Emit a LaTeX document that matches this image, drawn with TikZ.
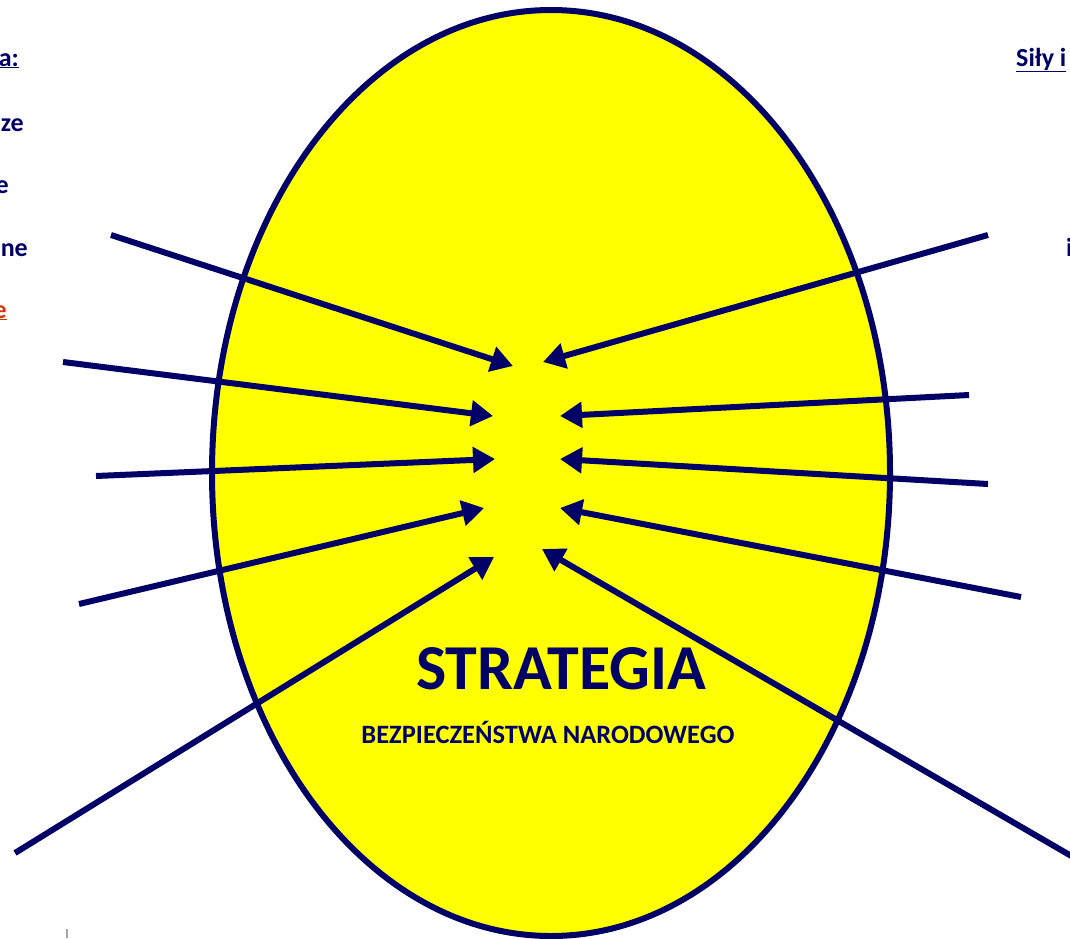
\documentclass[tikz,border=0pt]{standalone}
\usepackage{fontspec}
\setmainfont{Carlito}
\usetikzlibrary{arrows.meta}
\definecolor{navy}{RGB}{0,0,102}
\definecolor{eggyellow}{RGB}{255,255,0}
\definecolor{rust}{RGB}{204,60,10}
\tikzset{
  egg/.style={draw=navy, fill=eggyellow, line width=6pt},
  force/.style={draw=navy, line width=6pt, -{Triangle[length=22pt,width=25pt]}},
  sidetext/.style={font=\fontsize{26}{30}\selectfont\bfseries, text=navy, inner sep=0pt},
}
\begin{document}
\begin{tikzpicture}[x=1pt,y=-1pt]
\useasboundingbox (0,0) rectangle (1070,938);
\clip (0,0) rectangle (1070,938);
\fill[white] (0,0) rectangle (1070,938);
% egg
\draw[egg] (551,473) ellipse [x radius=339, y radius=463];
% side texts (cut by the page edge)
\node[sidetext, anchor=base east] (l1) at (19,66) {\underline{a:}};
\node[sidetext, anchor=base east] (l2) at (24,131) {ze};
\node[sidetext, anchor=base east] (l3) at (9,193) {e};
\node[sidetext, anchor=base east] (l4) at (28,256) {ne};
\node[sidetext, anchor=base east, text=rust] (l5) at (7,318) {\underline{e}};
\node[sidetext, anchor=base west] (r1) at (1016,66) {\underline{Siły i}};
\node[sidetext, anchor=base west] (r2) at (1066,256) {i};
% arrow ends
\coordinate (s1) at (111,235);  \coordinate (t1) at (513,366);
\coordinate (s2) at (63,362);   \coordinate (t2) at (493,416);
\coordinate (s3) at (96,476);   \coordinate (t3) at (495,459);
\coordinate (s4) at (79,604);   \coordinate (t4) at (484,508);
\coordinate (s5) at (15,853);   \coordinate (t5) at (494,557);
\coordinate (s6) at (988,235);  \coordinate (t6) at (543,362);
\coordinate (s7) at (969,395);  \coordinate (t7) at (560,416);
\coordinate (s8) at (988,484);  \coordinate (t8) at (560,459);
\coordinate (s9) at (1021,597); \coordinate (t9) at (560,508);
\coordinate (s10) at (1080,861); \coordinate (t10) at (542,549);
\foreach \i in {1,...,10} { \draw[force] (s\i) -- (t\i); }
% titles
\node[font=\fontsize{64}{72}\selectfont\bfseries, text=navy, inner sep=0pt] (title) at (561,669) {STRATEGIA};
\node[font=\fontsize{26.5}{30}\selectfont\bfseries, text=navy, inner sep=0pt] (sub) at (548,732) {BEZPIECZEŃSTWA NARODOWEGO};
% small mark at the bottom edge
\coordinate (m1) at (67,929); \coordinate (m2) at (67,938);
\draw[gray!70, line width=1.5pt] (m1) -- (m2);
\end{tikzpicture}
\end{document}
